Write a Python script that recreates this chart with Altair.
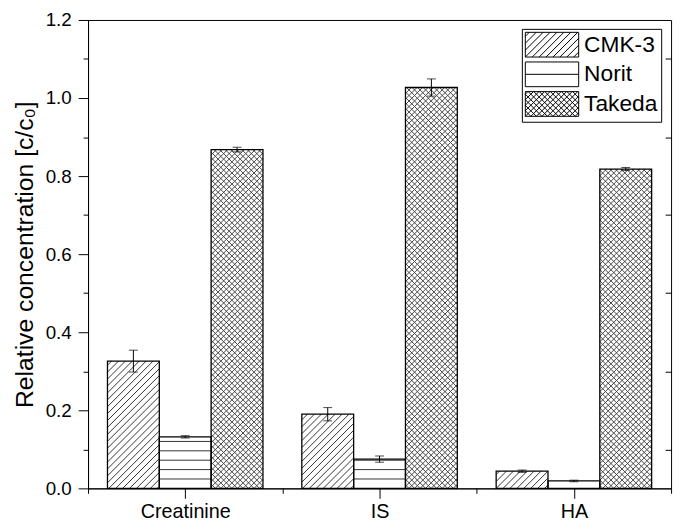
import json
import math
import altair as alt
import pandas as pd

# ---------------- data ----------------
categories = ["Creatinine", "IS", "HA"]
series_names = ["CMK-3", "Norit", "Takeda"]
cmk3_values = [0.326, 0.190, 0.044]
cmk3_errors = [0.028, 0.017, 0.003]
norit_values = [0.132, 0.075, 0.019]
norit_errors = [0.003, 0.008, 0.002]
takeda_values = [0.868, 1.027, 0.818]
takeda_errors = [0.006, 0.022, 0.004]
y_tick_values = [0.0, 0.1, 0.2, 0.3, 0.4, 0.5, 0.6, 0.7, 0.8, 0.9, 1.0, 1.1, 1.2]
right_tick_values = [0.1, 0.3, 0.5, 0.7, 0.9, 1.1]
y_title = "Relative concentration [c/c\u2080]"

values_by_series = {
    "CMK-3": (cmk3_values, cmk3_errors),
    "Norit": (norit_values, norit_errors),
    "Takeda": (takeda_values, takeda_errors),
}

# ---------------- layout / style ----------------
W, H = 590, 474
X_MIN, X_MAX = 0.5, len(categories) + 0.5
Y_MIN, Y_MAX = 0.0, 1.2
BAR_W = 0.8 / len(series_names)
PX_X = W / (X_MAX - X_MIN)
PX_Y = H / (Y_MAX - Y_MIN)
FONT = "Liberation Sans"

patterns = {
    "CMK-3": {"kind": "diag", "step": 7.0, "color": "#333333", "width": 1.0},
    "Norit": {"kind": "horiz", "step": 9.5, "color": "#333333", "width": 1.0},
    "Takeda": {"kind": "cross", "step": 5.6, "color": "#444444", "width": 1.0},
}


def hatch(kind, step, X0, X1, Y0, Y1):
    """Hatch segments inside a rectangle, pixel units, y pointing up."""
    segs = []
    if kind in ("diag", "cross"):
        for k in range(math.ceil((X0 - Y1) / step), math.floor((X1 - Y0) / step) + 1):
            c = k * step
            lo, hi = max(Y0, X0 - c), min(Y1, X1 - c)
            if hi - lo > 0.3:
                segs.append((lo + c, lo, hi + c, hi))
    if kind == "cross":
        for k in range(math.ceil((X0 + Y0) / step), math.floor((X1 + Y1) / step) + 1):
            c = k * step
            lo, hi = max(Y0, c - X1), min(Y1, c - X0)
            if hi - lo > 0.3:
                segs.append((c - lo, lo, c - hi, hi))
    if kind == "horiz":
        k = 1
        while Y0 + k * step < Y1 - 1.0:
            y = Y0 + k * step
            segs.append((X0, y, X1, y))
            k += 1
    return segs


bar_rows, hatch_rows = [], []
n_s = len(series_names)
for i, cat in enumerate(categories):
    for j, s in enumerate(series_names):
        v, e = values_by_series[s][0][i], values_by_series[s][1][i]
        center = (i + 1) + (j - (n_s - 1) / 2) * BAR_W
        x0, x1 = center - BAR_W / 2, center + BAR_W / 2
        bar_rows.append(dict(category=cat, series=s, center=center, x0=x0, x1=x1,
                             value=v, lo=v - e, hi=v + e))
        p = patterns[s]
        for ax, ay, bx, by in hatch(p["kind"], p["step"], (x0 - X_MIN) * PX_X,
                                    (x1 - X_MIN) * PX_X, 0.0, v * PX_Y):
            hatch_rows.append(dict(series=s, hx=X_MIN + ax / PX_X, hy=ay / PX_Y,
                                   hx2=X_MIN + bx / PX_X, hy2=by / PX_Y,
                                   color=p["color"], width=p["width"]))

bars_df = pd.DataFrame(bar_rows)
hatch_df = pd.DataFrame(hatch_rows)

# legend swatches as custom symbol paths
SW, SH = 54.0, 25.0
R = SH / 2.0
legend_paths = []
for s in series_names:
    p = patterns[s]
    step = p["step"] if p["kind"] != "horiz" else SH / 2.0
    path = f"M-1,-1H{SW / R - 1:.3f}V1H-1Z"
    for ax, ay, bx, by in hatch(p["kind"], step, 0.0, SW, 0.0, SH):
        path += f"M{ax / R - 1:.3f},{1 - ay / R:.3f}L{bx / R - 1:.3f},{1 - by / R:.3f}"
    legend_paths.append(path)
legend_df = pd.DataFrame({"series": series_names})

# ---------------- scales & axes ----------------
xs = alt.Scale(domain=[X_MIN, X_MAX], nice=False, zero=False)
ys = alt.Scale(domain=[Y_MIN, Y_MAX], nice=False)

x_tick_values = [X_MIN + 0.5 * k for k in range(2 * len(categories) + 1)]
x_axis = alt.Axis(
    values=x_tick_values,
    labelExpr="datum.value % 1 === 0 ? " + json.dumps([""] + categories) + "[datum.value] : ''",
    tickSize={"condition": {"test": "datum.value % 1 !== 0", "value": 5}, "value": 10},
    labelFontSize=20, labelPadding=3, title=None, grid=False,
)
y_axis = alt.Axis(
    values=y_tick_values,
    labelExpr="round(datum.value*10) % 2 === 1 ? '' : format(datum.value, '.1f')",
    tickSize={"condition": {"test": "round(datum.value*10) % 2 === 1", "value": 5}, "value": 10},
    labelFontSize=19, labelPadding=7, title=y_title, titleFontSize=25,
    titleFontWeight="normal", titlePadding=8, grid=False,
)
right_axis = alt.Axis(
    orient="right", values=right_tick_values, labels=False, domain=False,
    tickSize=6, offset=-6, title=None, grid=False,
)

X = lambda f: alt.X(f, type="quantitative", scale=xs, axis=x_axis)

bars_fill = alt.Chart(bars_df).mark_rect(fill="white", strokeOpacity=0).encode(
    x=X("x0"), x2="x1",
    y=alt.Y("value:Q", scale=ys, axis=y_axis), y2=alt.datum(0),
)

hatch_layer = alt.Chart(hatch_df).mark_rule().encode(
    x=X("hx"), x2="hx2",
    y=alt.Y("hy:Q", scale=ys, axis=None), y2="hy2",
    color=alt.Color("color:N", scale=None),
    strokeWidth=alt.StrokeWidth("width:Q", scale=None),
)

outline = alt.Chart(bars_df).mark_rect(fillOpacity=0, stroke="black", strokeWidth=1.3).encode(
    x=X("x0"), x2="x1",
    y=alt.Y("value:Q", scale=ys, axis=None), y2=alt.datum(0),
)

err_rule = alt.Chart(bars_df).mark_rule(color="black", strokeWidth=1).encode(
    x=X("center"), y=alt.Y("lo:Q", scale=ys, axis=right_axis), y2="hi",
)
cap_hi = alt.Chart(bars_df).mark_tick(orient="horizontal", color="black", size=9, thickness=1).encode(
    x=X("center"), y=alt.Y("hi:Q", scale=ys, axis=None),
)
cap_lo = alt.Chart(bars_df).mark_tick(orient="horizontal", color="black", size=9, thickness=1).encode(
    x=X("center"), y=alt.Y("lo:Q", scale=ys, axis=None),
)

legend_layer = alt.Chart(legend_df).mark_point(opacity=0, stroke="black").encode(
    shape=alt.Shape(
        "series:N",
        scale=alt.Scale(domain=series_names, range=legend_paths),
        legend=alt.Legend(
            title=None, orient="none", legendX=439, legendY=9,
            strokeColor="black", fillColor="white", padding=3,
            labelFont=FONT, labelFontSize=23, labelColor="black", labelOffset=34,
            symbolSize=625, symbolStrokeWidth=1, symbolStrokeColor="black",
            symbolFillColor="white", symbolOpacity=1, rowPadding=0,
        ),
    ),
)

chart = (
    alt.layer(bars_fill, hatch_layer, outline, err_rule, cap_hi, cap_lo, legend_layer)
    .resolve_axis(y="independent")
    .properties(
        width=W, height=H,
        autosize=alt.AutoSizeParams(type="none"),
        padding={"left": 81, "top": 9, "right": 6, "bottom": 39},
    )
    .configure_view(stroke="black", strokeWidth=1)
    .configure_axis(
        domainColor="black", tickColor="black", labelColor="black", titleColor="black",
        labelFont=FONT, titleFont=FONT, domainWidth=1, tickWidth=1,
    )
)

chart.save("out.html", embed_options={"renderer": "svg", "actions": False})
